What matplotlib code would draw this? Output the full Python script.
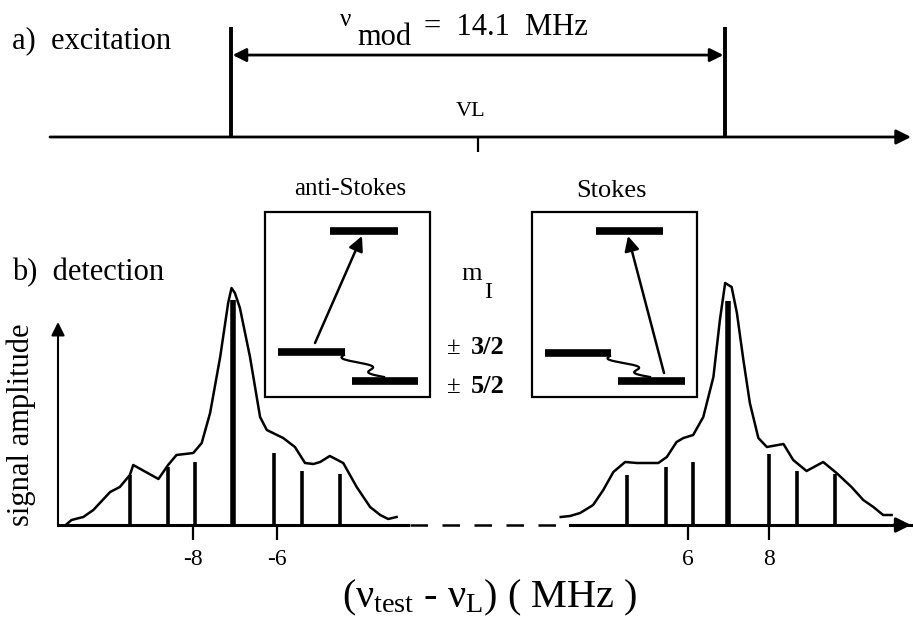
import numpy as np
import matplotlib.pyplot as plt

plt.rcParams['font.family'] = ['Liberation Serif', 'DejaVu Serif']
plt.rcParams['mathtext.fontset'] = 'custom'
plt.rcParams['mathtext.rm'] = 'Liberation Serif'
plt.rcParams['mathtext.it'] = 'Liberation Serif'

# excitation: two sidebands split by nu_mod
nu_mod = 14.1
exc_freq = [-nu_mod / 2, nu_mod / 2]
exc_amp = [1.0, 1.0]

# detection: hyperfine lines (MHz) and their amplitudes (arb. units)
as_lines_f = [-9.51, -8.60, -7.96, -7.05, -6.07, -5.42, -4.51]
as_lines_a = [0.50, 0.58, 0.63, 2.25, 0.72, 0.54, 0.51]
s_lines_f = [4.48, 5.45, 6.11, 6.97, 8.00, 8.68, 9.63]
s_lines_a = [0.50, 0.58, 0.63, 2.24, 0.71, 0.54, 0.51]

# measured signal, anti-Stokes side
as_curve_f = [-11.01, -10.90, -10.62, -10.38, -9.98, -9.75, -9.51, -9.43, -8.83,
              -8.60, -8.40, -8.00, -7.80, -7.60, -7.36, -7.17, -7.09, -7.01,
              -6.89, -6.65, -6.41, -6.25, -5.86, -5.58, -5.34, -5.14, -4.98,
              -4.75, -4.43, -4.11, -3.79, -3.55, -3.36, -3.16]
as_curve_a = [0.01, 0.05, 0.08, 0.15, 0.33, 0.38, 0.50, 0.60, 0.46,
              0.60, 0.70, 0.72, 0.82, 1.12, 1.68, 2.22, 2.37, 2.32,
              2.17, 1.68, 1.08, 0.95, 0.87, 0.78, 0.62, 0.61, 0.63,
              0.69, 0.62, 0.38, 0.18, 0.10, 0.06, 0.08]

# measured signal, Stokes side
s_curve_f = [2.85, 3.08, 3.33, 3.65, 3.90, 4.15, 4.44, 4.73, 5.26, 5.47, 5.71,
             5.88, 6.12, 6.37, 6.62, 6.78, 6.91, 7.07, 7.20, 7.36, 7.52, 7.73,
             7.94, 8.35, 8.59, 8.92, 9.33, 9.66, 10.03, 10.32, 10.57, 10.81, 11.02]
s_curve_a = [0.08, 0.09, 0.12, 0.20, 0.35, 0.53, 0.63, 0.62, 0.62, 0.68, 0.83,
             0.87, 0.90, 1.08, 1.48, 2.05, 2.42, 2.38, 2.12, 1.65, 1.22, 0.87,
             0.78, 0.81, 0.65, 0.54, 0.63, 0.52, 0.38, 0.25, 0.18, 0.10, 0.10]

W, H = 913, 618


def px_axes(fig, x0, y0, x1, y1):
    # axes placed by pixel box (y measured from top)
    return fig.add_axes([x0 / W, 1 - y1 / H, (x1 - x0) / W, (y1 - y0) / H])


def squiggle(ax, p0, p1, amp=8.0, turns=1.5):
    # wavy relaxation path, swinging sideways while it goes down
    t = np.linspace(0, 1, 150)
    x = p0[0] + (p1[0] - p0[0]) * t - amp * np.sin(2 * np.pi * turns * t)
    y = p0[1] + (p1[1] - p0[1]) * t
    ax.plot(x, y, color='black', lw=1.6)


fig = plt.figure(figsize=(W / 100, H / 100), dpi=100)

# overlay for labels and level schemes, in pixels
ov = fig.add_axes([0, 0, 1, 1])
ov.set_xlim(0, W)
ov.set_ylim(H, 0)
ov.axis('off')

# ---- a) excitation ----
ax_e = px_axes(fig, 50, 27, 911, 137)
ax_e.set_facecolor('none')
ax_e.set_xlim((50 - 478) / 35, (911 - 478) / 35)
ax_e.set_ylim(0, 1)
for sp in ['left', 'top', 'right', 'bottom']:
    ax_e.spines[sp].set_visible(False)
ax_e.vlines(exc_freq, 0, exc_amp, color='black', lw=2.8)
ax_e.annotate('', xy=(1, 0), xytext=(0, 0), xycoords='axes fraction',
              arrowprops=dict(arrowstyle='-|>', lw=2.0, color='black',
                              mutation_scale=22, shrinkA=0, shrinkB=0))
ax_e.annotate('', xy=(exc_freq[1], 0.745), xytext=(exc_freq[0], 0.745),
              arrowprops=dict(arrowstyle='<|-|>', lw=2.0, color='black',
                              mutation_scale=20, shrinkA=1, shrinkB=1))
ax_e.set_xticks([0])
ax_e.set_xticklabels([''])
ax_e.tick_params(axis='x', direction='out', length=11, width=1.6)
ax_e.set_yticks([])
ax_e.text(-0.2, 0.236, 'VL', ha='center', va='center', fontsize=16)

ov.text(12, 48, 'a)  excitation', fontsize=22, ha='left', va='baseline')
ov.text(340, 26, 'ν', fontsize=18, ha='left', va='baseline')
ov.text(357, 45, 'mod', fontsize=22, ha='left', va='baseline')
ov.text(424, 35, '=  14.1  MHz', fontsize=22, ha='left', va='baseline')

# ---- b) detection ----
ov.text(12, 280, 'b)  detection', fontsize=22, ha='left', va='baseline')
ov.text(21, 425, 'signal amplitude', fontsize=22, rotation=90,
        ha='center', va='center')

ax_l = px_axes(fig, 58, 280, 408, 525)
ax_l.set_xlim(-8 + (58 - 193.3) / 42, -8 + (408 - 193.3) / 42)
ax_r = px_axes(fig, 570, 280, 911, 525)
ax_r.set_xlim(6 + (570 - 688.3) / 40.5, 6 + (911 - 688.3) / 40.5)

for ax, lf, la, cf, ca, ticks in [
        (ax_l, as_lines_f, as_lines_a, as_curve_f, as_curve_a, [-8, -6]),
        (ax_r, s_lines_f, s_lines_a, s_curve_f, s_curve_a, [6, 8])]:
    ax.set_facecolor('none')
    ax.set_ylim(0, 2.45)
    for sp in ['left', 'top', 'right']:
        ax.spines[sp].set_visible(False)
    ax.spines['bottom'].set_linewidth(2.2)
    widths = [4.0 if a > 1.5 else 2.6 for a in la]
    ax.vlines(lf, 0, la, colors='black', linewidths=widths, clip_on=False)
    ax.plot(cf, ca, color='black', lw=1.8, clip_on=False)
    ax.set_xticks(ticks)
    ax.set_xticklabels([str(t) for t in ticks], fontsize=17)
    ax.tick_params(axis='x', direction='out', length=11, width=1.6, pad=6)
    ax.set_yticks([])

# y arrow and x arrow
ax_l.annotate('', xy=(ax_l.get_xlim()[0], 2.03), xytext=(ax_l.get_xlim()[0], 0),
              arrowprops=dict(arrowstyle='-|>', lw=1.5, color='black',
                              mutation_scale=20, shrinkA=0, shrinkB=0))
ax_r.annotate('', xy=(1.0, 0), xytext=(0.95, 0), xycoords='axes fraction',
              arrowprops=dict(arrowstyle='-|>', lw=2.2, color='black',
                              mutation_scale=22, shrinkA=0, shrinkB=0))
# broken part of the frequency axis
ov.plot([410, 568], [525, 525], color='black', lw=1.8, dashes=(7, 5.8))

ov.text(489, 607, r'$(\nu_{\mathrm{test}}$ - $\nu_{\mathrm{L}})$ ( MHz )',
        fontsize=29, ha='center', va='baseline')

# ---- level schemes ----
ov.text(350, 195, 'anti-Stokes', fontsize=18, ha='center', va='baseline')
ov.text(611, 197, 'Stokes', fontsize=19, ha='center', va='baseline')
for x0, x1 in [(265, 430), (532, 697)]:
    ov.add_patch(plt.Rectangle((x0, 212), x1 - x0, 185, fill=False,
                               lw=1.6, ec='black'))

bars = [(330, 398, 231), (278, 345, 352), (352, 418, 381),
        (596, 663, 231), (545, 611, 353), (618, 685, 381)]
for x0, x1, y in bars:
    ov.plot([x0, x1], [y, y], color='black', lw=5.5, solid_capstyle='butt')

ov.annotate('', xy=(362, 236), xytext=(315, 343),
            arrowprops=dict(arrowstyle='-|>', lw=1.8, color='black',
                            mutation_scale=22, shrinkA=0, shrinkB=0))
ov.annotate('', xy=(628, 236), xytext=(664, 373),
            arrowprops=dict(arrowstyle='-|>', lw=1.8, color='black',
                            mutation_scale=22, shrinkA=0, shrinkB=0))
squiggle(ov, (344, 355), (384, 377))
squiggle(ov, (610, 356), (650, 377))

ov.text(461, 280, 'm', fontsize=19, ha='left', va='baseline')
ov.text(484, 298, 'I', fontsize=17, ha='left', va='baseline')
for y, frac in [(354, '3/2'), (393, '5/2')]:
    ov.text(447, y, '±', fontsize=18, ha='left', va='baseline')
    ov.text(471, y, frac, fontsize=19, fontweight='bold', ha='left', va='baseline')

fig.savefig('out.png', dpi=100)
